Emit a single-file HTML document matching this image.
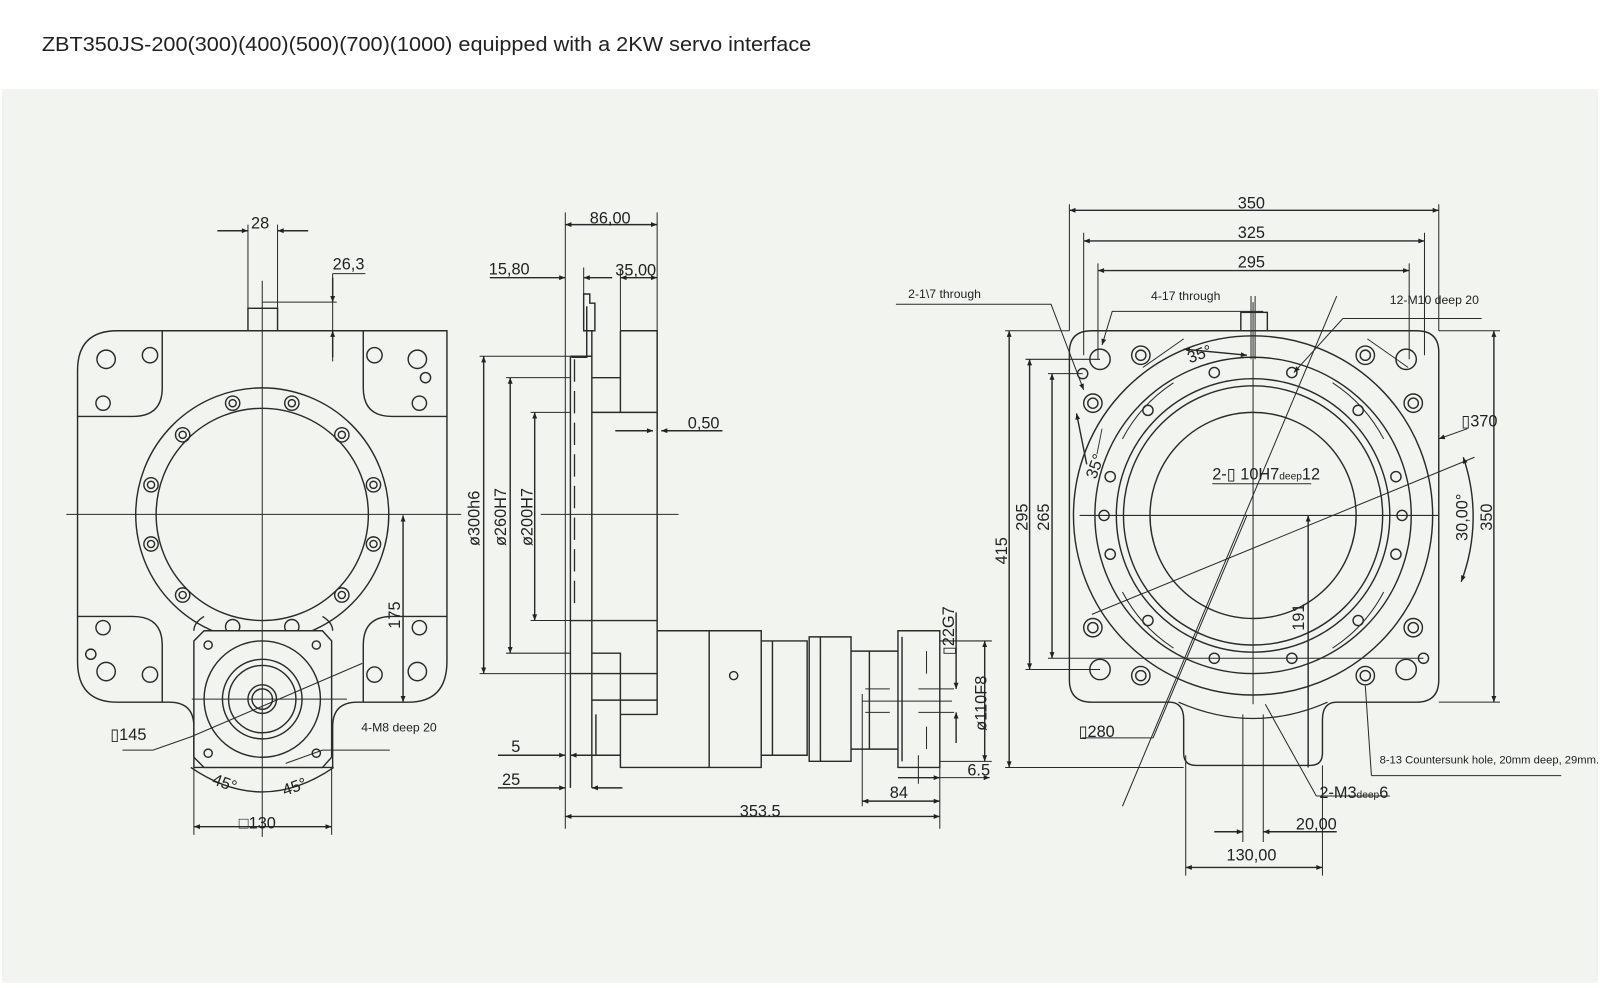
<!DOCTYPE html>
<html><head><meta charset="utf-8"><style>
html,body{margin:0;padding:0;background:#fff;}
svg{display:block}
text{font-family:"Liberation Sans","DejaVu Sans",sans-serif;fill:#222}
</style></head><body>
<svg width="1600" height="988" viewBox="0 0 1568 968" xmlns="http://www.w3.org/2000/svg">
<defs>
<marker id="a" viewBox="0 0 10 10" refX="10" refY="5" markerWidth="9" markerHeight="6" orient="auto-start-reverse" markerUnits="userSpaceOnUse"><path d="M0,1 L10,5 L0,9z" fill="#222"/></marker>
</defs>
<rect x="0" y="0" width="1568" height="968" fill="#fff"/>
<rect x="2" y="87" width="1564" height="876" fill="#f2f4ef"/>
<text x="41" y="50" font-size="20" fill="#222" textLength="754" lengthAdjust="spacingAndGlyphs">ZBT350JS-200(300)(400)(500)(700)(1000) equipped with a 2KW servo interface</text>

<g fill="none" stroke="#2a2a2a" stroke-width="1.4">
<!-- ================= LEFT VIEW ================= -->
<path d="M76,363 Q76,324 115,324 L438,324 L438,648 Q438,688 400,688 L350,688 Q326,688 326,712 L326,752 L190,752 L190,712 Q190,688 166,688 L115,688 Q76,688 76,648 Z"/>
<path d="M76,408 L130,408 Q159,408 159,380 L159,324"/>
<path d="M438,408 L384,408 Q356,408 356,380 L356,324"/>
<path d="M76,604 L130,604 Q159,604 159,632 L159,688"/>
<path d="M438,604 L384,604 Q356,604 356,632 L356,688"/>
<path d="M190,618 Q190,610 200,604 M326,618 Q326,610 316,604"/>
<circle cx="104" cy="352" r="9"/><circle cx="147" cy="348" r="7.5"/><circle cx="101" cy="395" r="7"/>
<circle cx="367" cy="348" r="7.5"/><circle cx="409" cy="352" r="9"/><circle cx="417" cy="370" r="5"/><circle cx="411" cy="395" r="7"/>
<circle cx="101" cy="615" r="7"/><circle cx="89" cy="641" r="5"/><circle cx="104" cy="658" r="9"/><circle cx="147" cy="661" r="7.5"/>
<circle cx="367" cy="661" r="7.5"/><circle cx="409" cy="658" r="9"/><circle cx="411" cy="615" r="7"/>
<ellipse cx="257" cy="504" rx="124" ry="124"/>
<ellipse cx="257" cy="504" rx="104" ry="104"/>
<g>
<circle cx="228" cy="395" r="7"/><circle cx="228" cy="395" r="3.5"/>
<circle cx="286" cy="395" r="7"/><circle cx="286" cy="395" r="3.5"/>
<circle cx="179" cy="426" r="7"/><circle cx="179" cy="426" r="3.5"/>
<circle cx="335" cy="426" r="7"/><circle cx="335" cy="426" r="3.5"/>
<circle cx="148" cy="475" r="7"/><circle cx="148" cy="475" r="3.5"/>
<circle cx="366" cy="475" r="7"/><circle cx="366" cy="475" r="3.5"/>
<circle cx="148" cy="533" r="7"/><circle cx="148" cy="533" r="3.5"/>
<circle cx="366" cy="533" r="7"/><circle cx="366" cy="533" r="3.5"/>
<circle cx="179" cy="583" r="7"/><circle cx="179" cy="583" r="3.5"/>
<circle cx="335" cy="583" r="7"/><circle cx="335" cy="583" r="3.5"/>
<circle cx="228" cy="614" r="7"/><circle cx="286" cy="614" r="7"/>
</g>
<path d="M200,618 L316,618 L325,628 L325,742 L316,752 L200,752 L190,742 L190,628 Z" fill="#f2f4ef"/>
<circle cx="257" cy="685" r="57"/><circle cx="257" cy="685" r="39"/><circle cx="257" cy="685" r="33"/>
<circle cx="257" cy="685" r="14"/><circle cx="257" cy="685" r="10"/>
<circle cx="204" cy="632" r="4"/><circle cx="310" cy="632" r="4"/><circle cx="204" cy="738" r="4"/><circle cx="310" cy="738" r="4"/>
<rect x="243" y="302" width="29" height="22"/>
<path d="M257,275 L257,820 M65,504 L452,504 M188,685 L340,685" stroke-width="1"/>
<!-- left dims -->
<path d="M243,302 L243,220 M272,302 L272,220" stroke-width="1"/>
<path d="M213,226 L243,226" marker-end="url(#a)"/><path d="M302,226 L272,226" marker-end="url(#a)"/>
<path d="M257,296 L330,296 M326,268 L326,354 M326,268 L358,268" stroke-width="1"/>
<path d="M326,272 L326,296" marker-end="url(#a)"/><path d="M326,350 L326,324" marker-end="url(#a)"/>
<path d="M395,505 L395,688" marker-start="url(#a)" marker-end="url(#a)"/>
<path d="M120,735 L150,735 L187,722 L355,650" stroke-width="1"/>
<path d="M280,748 L316,735 L382,735" stroke-width="1"/>
<path d="M190,752 L190,818 M325,752 L325,818" stroke-width="1"/>
<path d="M190,810 L325,810" marker-start="url(#a)" marker-end="url(#a)"/>
<path d="M187,752 Q257,800 327,752"/>

<!-- ================= MIDDLE VIEW ================= -->
<path d="M554,208 L554,812 M644,208 L644,420" stroke-width="1"/>
<path d="M559,349 L559,772 M580,324 L580,772"/>
<path d="M563,352 L563,600" stroke-dasharray="22,9" stroke-width="1.3"/>
<path d="M608,324 L644,324 L644,700 L608,700 L608,740 L584,740 L584,700 M580,404 L644,404 M580,370 L608,370 M608,324 L608,404 M580,608 L644,608 M580,640 L608,640 L608,700 M580,660 L644,660 M580,686 L644,686"/>
<path d="M559,349 L580,349 M559,608 L580,608 M559,660 L580,660"/>
<path d="M572,288 L578,288 L578,297 L583,297 L583,324 L572,324 Z M575,300 L575,350 L560,350"/>
<path d="M644,618 L746,618 L746,752 L608,752 L608,740 M695,618 L695,752 M746,628 L757,628 L757,740 L746,740 M757,628 L791,628 L791,740 L757,740 M793,624 L834,624 L834,746 L793,746 Z M804,624 L804,746 M834,638 L880,638 L880,734 L834,734 M852,638 L852,734 M880,618 L921,618 L921,752 L880,752 Z M884,624 L884,746"/>
<circle cx="719" cy="662" r="4"/>
<path d="M530,504 L665,504 M845,687 L933,687 M848,675 L872,675 M848,698 L872,698 M900,675 L935,675 M900,698 L935,698 M908,638 L908,660 M908,712 L908,734" stroke-width="1"/>
<!-- middle dims -->
<path d="M554,220 L644,220" marker-start="url(#a)" marker-end="url(#a)"/>
<path d="M480,272 L554,272" marker-end="url(#a)"/><path d="M600,272 L572,272" marker-end="url(#a)"/>
<path d="M572,262 L572,288" stroke-width="1"/>
<path d="M608,324 L608,264" stroke-width="1"/>
<path d="M608,272 L644,272" marker-start="url(#a)" marker-end="url(#a)"/>
<path d="M470,349 L559,349 M496,370 L559,370 M520,404 L559,404 M520,608 L559,608 M496,640 L559,640 M470,660 L559,660" stroke-width="1"/>
<path d="M474,349 L474,660" marker-start="url(#a)" marker-end="url(#a)"/>
<path d="M500,370 L500,640" marker-start="url(#a)" marker-end="url(#a)"/>
<path d="M524,404 L524,608" marker-start="url(#a)" marker-end="url(#a)"/>
<path d="M603,422 L640,422" marker-end="url(#a)"/><path d="M708,422 L648,422" marker-end="url(#a)"/>
<path d="M488,740 L554,740" marker-end="url(#a)"/><path d="M600,740 L559,740" marker-end="url(#a)"/>
<path d="M488,772 L554,772" marker-end="url(#a)"/><path d="M610,772 L580,772" marker-end="url(#a)"/>
<path d="M554,800 L921,800" marker-start="url(#a)" marker-end="url(#a)"/>
<path d="M921,752 L921,812 M845,680 L845,790 M900,740 L900,768" stroke-width="1"/>
<path d="M845,785 L921,785" marker-start="url(#a)" marker-end="url(#a)"/>
<path d="M880,762 L921,762" marker-end="url(#a)"/><path d="M970,762 L921,762" marker-start="url(#a)" stroke-width="1"/>
<path d="M921,628 L972,628 M921,746 L972,746" stroke-width="1"/>
<path d="M965,628 L965,746" marker-start="url(#a)" marker-end="url(#a)"/>
<path d="M937,600 L937,675" marker-end="url(#a)"/><path d="M937,728 L937,698" marker-end="url(#a)"/>

<!-- ================= RIGHT VIEW ================= -->
<path d="M1048,345 Q1048,324 1070,324 L1388,324 Q1410,324 1410,345 L1410,666 Q1410,688 1388,688 L1310,688 Q1296,688 1296,705 L1296,738 Q1296,750 1284,750 L1172,750 Q1160,750 1160,738 L1160,705 Q1160,688 1146,688 L1070,688 Q1048,688 1048,666 Z"/>
<path d="M1155,688 Q1228,720 1301,688" stroke-width="1.2"/>
<circle cx="1228" cy="505" r="176"/>
<circle cx="1228" cy="505" r="155"/>
<circle cx="1228" cy="505" r="134"/>
<circle cx="1228" cy="505" r="127"/>
<circle cx="1228" cy="505" r="101"/>
<path d="M1100,430 A148,148 0 0 1 1150,375 M1356,580 A148,148 0 0 1 1306,635 M1100,580 A148,148 0 0 0 1150,635 M1356,430 A148,148 0 0 0 1306,375" stroke-width="1"/>
<g>
<circle cx="1071" cy="395" r="9"/><circle cx="1071" cy="395" r="5"/>
<circle cx="1385" cy="395" r="9"/><circle cx="1385" cy="395" r="5"/>
<circle cx="1071" cy="615" r="9"/><circle cx="1071" cy="615" r="5"/>
<circle cx="1385" cy="615" r="9"/><circle cx="1385" cy="615" r="5"/>
<circle cx="1118" cy="348" r="9"/><circle cx="1118" cy="348" r="5"/>
<circle cx="1338" cy="348" r="9"/><circle cx="1338" cy="348" r="5"/>
<circle cx="1118" cy="662" r="9"/><circle cx="1118" cy="662" r="5"/>
<circle cx="1338" cy="662" r="9"/><circle cx="1338" cy="662" r="5"/>
</g>
<circle cx="1078" cy="352" r="10"/><circle cx="1378" cy="352" r="10"/><circle cx="1078" cy="656" r="10"/><circle cx="1378" cy="656" r="10"/>
<circle cx="1061" cy="366" r="5"/><circle cx="1395" cy="645" r="5"/>
<g>
<circle cx="1190" cy="365" r="5"/><circle cx="1266" cy="365" r="5"/>
<circle cx="1125" cy="402" r="5"/><circle cx="1331" cy="402" r="5"/>
<circle cx="1088" cy="467" r="5"/><circle cx="1368" cy="467" r="5"/>
<circle cx="1088" cy="543" r="5"/><circle cx="1368" cy="543" r="5"/>
<circle cx="1125" cy="608" r="5"/><circle cx="1331" cy="608" r="5"/>
<circle cx="1190" cy="645" r="5"/><circle cx="1266" cy="645" r="5"/>
<circle cx="1082" cy="505" r="5"/><circle cx="1374" cy="505" r="5"/>
</g>
<rect x="1216" y="306" width="26" height="18"/>
<path d="M1226,290 L1226,352 M1230,290 L1230,352" stroke-width="1"/>
<path d="M1228,296 L1228,690 M1058,505 L1410,505" stroke-width="1"/>
<path d="M1070,602 L1445,448 M1100,790 L1310,290" stroke-width="1"/>
<path d="M1120,360 L1160,332 M1340,332 L1380,360 M1075,445 L1080,420" stroke-width="0.9"/>
<!-- right dims -->
<path d="M1048,324 L1048,200 M1410,324 L1410,200 M1062,348 L1062,228 M1396,348 L1396,228 M1076,352 L1076,258 M1381,352 L1381,258" stroke-width="1"/>
<path d="M1048,206 L1410,206" marker-start="url(#a)" marker-end="url(#a)"/>
<path d="M1062,236 L1396,236" marker-start="url(#a)" marker-end="url(#a)"/>
<path d="M1076,265 L1381,265" marker-start="url(#a)" marker-end="url(#a)"/>
<path d="M985,324 L1048,324 M1005,352 L1078,352 M1027,366 L1061,366 M985,752 L1160,752 M1005,656 L1078,656 M1027,645 L1395,645 M1410,324 L1470,324 M1410,688 L1470,688" stroke-width="1"/>
<path d="M989,324 L989,752" marker-start="url(#a)" marker-end="url(#a)"/>
<path d="M1009,352 L1009,656" marker-start="url(#a)" marker-end="url(#a)"/>
<path d="M1031,366 L1031,645" marker-start="url(#a)" marker-end="url(#a)"/>
<path d="M1464,324 L1464,688" marker-start="url(#a)" marker-end="url(#a)"/>
<path d="M1282,505 L1282,752" marker-start="url(#a)"/>
<path d="M1162,740 L1162,858 M1296,750 L1296,858 M1218,700 L1218,825 M1238,700 L1238,825" stroke-width="1"/>
<path d="M1162,850 L1296,850" marker-start="url(#a)" marker-end="url(#a)"/>
<path d="M1190,815 L1218,815" marker-end="url(#a)"/><path d="M1310,815 L1238,815" marker-end="url(#a)"/>
<path d="M1434,448 A180,180 0 0 1 1432,570" marker-start="url(#a)" marker-end="url(#a)"/>
<path d="M1160,342 L1222,348" marker-start="url(#a)" marker-end="url(#a)"/>
<path d="M1065,455 L1055,405" marker-end="url(#a)"/>
<path d="M878,298 L1030,298 L1062,382" stroke-width="1" marker-end="url(#a)"/>
<path d="M1238,305 L1090,305 L1080,338" stroke-width="1" marker-end="url(#a)"/>
<path d="M1452,312 L1316,312 L1268,365" stroke-width="1" marker-end="url(#a)"/>
<path d="M1060,723 L1130,723 L1222,505" stroke-width="1"/>
<path d="M1188,474 L1285,474" stroke-width="1"/>
<path d="M1290,780 L1362,780 M1290,780 L1240,690" stroke-width="1"/>
<path d="M1344,760 L1530,760 M1344,760 L1338,672" stroke-width="1"/>
<path d="M1438,420 L1410,430" marker-end="url(#a)" stroke-width="1"/>
</g>

<g font-size="16">
<text x="246" y="224">28</text>
<text x="326" y="264">26,3</text>
<text transform="translate(392,616) rotate(-90)">175</text>
<text x="108" y="725">▯145</text>
<text x="354" y="717" font-size="12">4-M8 deep 20</text>
<text transform="translate(207,768) rotate(20)">45°</text>
<text transform="translate(279,780) rotate(-20)">45°</text>
<text x="234" y="812">□130</text>
<text x="578" y="219">86,00</text>
<text x="479" y="269">15,80</text>
<text x="603" y="270">35,00</text>
<text x="674" y="420">0,50</text>
<text transform="translate(470,535) rotate(-90)">ø300h6</text>
<text transform="translate(496,535) rotate(-90)">ø260H7</text>
<text transform="translate(522,535) rotate(-90)">ø200H7</text>
<text transform="translate(935,642) rotate(-90)">▯22G7</text>
<text transform="translate(967,716) rotate(-90)">ø110F8</text>
<text x="501" y="737">5</text>
<text x="492" y="769">25</text>
<text x="948" y="760">6.5</text>
<text x="872" y="782">84</text>
<text x="725" y="800">353.5</text>
<text x="1213" y="204">350</text>
<text x="1213" y="233">325</text>
<text x="1213" y="262">295</text>
<text x="890" y="292" font-size="12">2-1\7 through</text>
<text x="1128" y="294" font-size="12">4-17 through</text>
<text x="1362" y="298" font-size="12">12-M10 deep 20</text>
<text transform="translate(987,553) rotate(-90)">415</text>
<text transform="translate(1007,520) rotate(-90)">295</text>
<text transform="translate(1028,520) rotate(-90)">265</text>
<text transform="translate(1462,520) rotate(-90)">350</text>
<text transform="translate(1438,530) rotate(-90)">30,00°</text>
<text transform="translate(1278,618) rotate(-90)">191</text>
<text x="1432" y="418">▯370</text>
<text x="1188" y="470">2-▯ 10H7<tspan font-size="10">deep</tspan>12</text>
<text transform="translate(1166,356) rotate(-20)">35°</text>
<text transform="translate(1074,470) rotate(-70)">35°</text>
<text x="1057" y="722">▯280</text>
<text x="1293" y="782">2-M3<tspan font-size="10">deep</tspan>6</text>
<text x="1270" y="813">20,00</text>
<text x="1202" y="843">130,00</text>
<text x="1352" y="748" font-size="11">8-13 Countersunk hole, 20mm deep, 29mm.</text>
</g>
</svg>
</body></html>
